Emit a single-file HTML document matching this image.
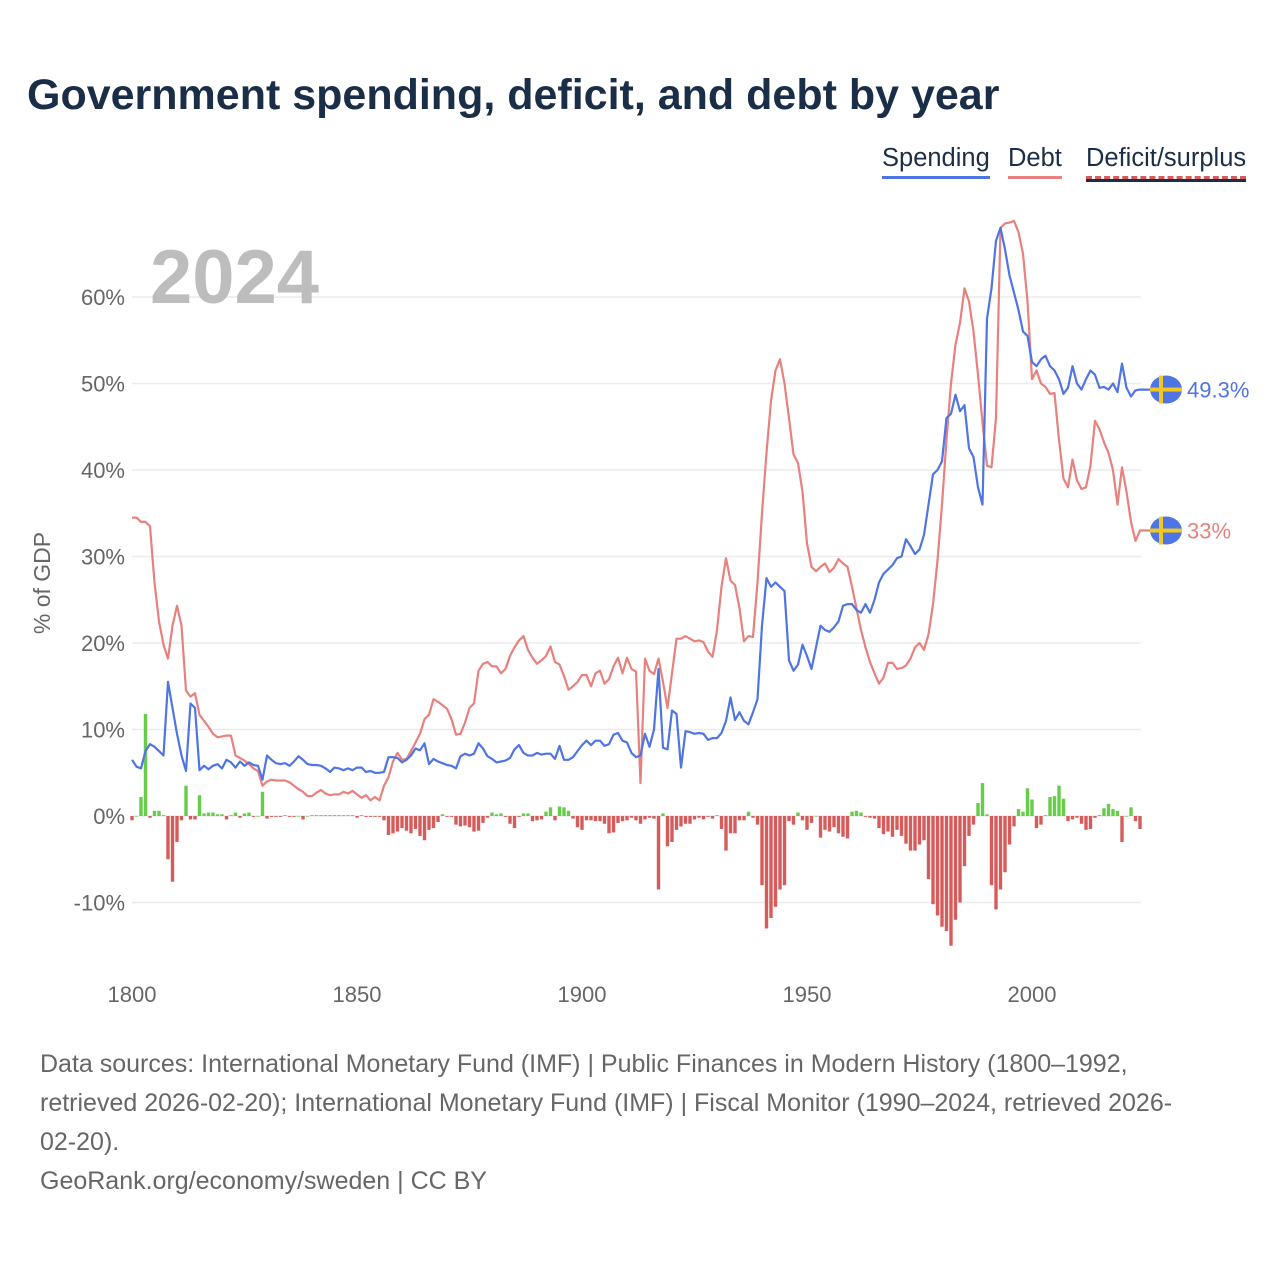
<!DOCTYPE html>
<html><head><meta charset="utf-8">
<style>
body{margin:0;background:#fff;font-family:"Liberation Sans",sans-serif;}
#wrap{position:relative;width:1280px;height:1280px;overflow:hidden;}
h1{position:absolute;left:27px;top:71px;margin:0;font-size:43px;font-weight:bold;color:#1b2e48;letter-spacing:0px;white-space:nowrap;}
.leg{position:absolute;top:144px;font-size:25.5px;color:#1b2e48;padding-bottom:3px;white-space:nowrap;}
#foot{position:absolute;left:40px;top:1045px;width:1230px;font-size:25px;line-height:39px;color:#666;white-space:nowrap;}
</style></head><body>
<div id="wrap">
<h1>Government spending, deficit, and debt by year</h1>
<div class="leg" style="left:882px;border-bottom:3px solid #4f74e3">Spending</div>
<div class="leg" style="left:1008px;border-bottom:3px solid #e8807e">Debt</div>
<div class="leg" style="left:1086px;border-bottom:3px dashed #d65c5c;box-shadow:0 3px 0 #1b2e48">Deficit/surplus</div>
<svg id="chart" width="1280" height="1280" style="position:absolute;left:0;top:0"></svg>
<div id="foot">Data sources: International Monetary Fund (IMF) | Public Finances in Modern History (1800–1992,<br>retrieved 2026-02-20); International Monetary Fund (IMF) | Fiscal Monitor (1990–2024, retrieved 2026-<br>02-20).<br>GeoRank.org/economy/sweden | CC BY</div>
</div>
<script>
const startYear = 1800;
const spending = [6.5,5.7,5.5,7.5,8.3,8,7.5,7,15.5,12.5,9.5,7,5.2,13,12.5,5.3,5.8,5.4,5.8,6,5.5,6.5,6.2,5.6,6.3,5.8,6.2,5.9,5.8,4.2,7,6.5,6.1,6,6.1,5.8,6.3,6.9,6.5,6,5.9,5.9,5.8,5.5,5.1,5.6,5.5,5.3,5.5,5.3,5.6,5.6,5.1,5.2,5,5,5.1,6.8,6.8,6.7,6.2,6.5,7,7.8,7.6,8.4,6,6.6,6.3,6.1,5.9,5.8,5.5,6.9,7.2,7,7.2,8.4,7.8,6.9,6.6,6.2,6.3,6.4,6.7,7.7,8.2,7.3,7,7,7.3,7.1,7.2,7.2,6.6,8.1,6.5,6.5,6.8,7.5,8.2,8.7,8.2,8.7,8.7,8.1,8.3,9.4,9.6,8.7,8.5,7.3,6.8,7,9.5,8,10,17,7.9,7.7,12.2,11.8,5.6,9.8,9.7,9.5,9.6,9.5,8.8,9,9,9.6,11,13.7,11.1,12,11,10.6,12,13.5,22,27.5,26.5,27,26.5,26,18,16.8,17.5,19.8,18.5,17,19.5,22,21.5,21.3,21.8,22.5,24.3,24.5,24.5,23.8,23.5,24.5,23.5,25,27,28,28.5,29,29.8,30,32,31.2,30.3,30.8,32.5,36,39.5,40,41,46,46.5,48.7,46.8,47.5,42.5,41.5,38,36,57.5,61,66.5,68,65.5,62.5,60.5,58.5,56,55.5,52.5,52,52.8,53.2,52,51.5,50.5,48.8,49.5,52,50,49.3,50.5,51.5,51,49.5,49.6,49.3,50,49,52.3,49.5,48.5,49.2,49.3];
const debt = [34.5,34.5,34,34,33.5,27,22.5,19.8,18.2,22,24.3,22,14.5,13.8,14.2,11.7,11,10.3,9.5,9.1,9.2,9.3,9.3,7,6.7,6.4,6,5.5,5.2,3.5,4,4.2,4.1,4.1,4.1,3.9,3.5,3.1,2.8,2.3,2.3,2.7,3,2.6,2.4,2.5,2.5,2.8,2.6,2.9,2.5,2.1,2.4,1.8,2.2,1.8,3.5,4.5,6.3,7.3,6.5,6.6,7.5,8.5,9.5,11.2,11.7,13.5,13.2,12.8,12.4,11.2,9.4,9.5,10.8,12.5,13,16.8,17.6,17.8,17.3,17.3,16.5,17,18.5,19.5,20.3,20.8,19.2,18.3,17.6,18,18.5,19.6,17.8,17.5,16.2,14.6,15,15.5,16.3,16.3,15,16.5,16.8,15.3,15.8,17.3,18.3,16.5,18.3,17,16.7,3.8,18.2,16.8,16.4,18.2,15.5,12.5,16.5,20.5,20.5,20.8,20.5,20.2,20.3,20.1,19,18.4,21.5,26.5,29.8,27.2,26.7,24,20.2,20.8,20.7,27,35,42,48,51.5,52.8,50,46,41.8,40.8,37.5,31.5,28.8,28.3,28.8,29.2,28.2,28.7,29.7,29.2,28.8,26.5,24,21.5,19.5,17.8,16.5,15.3,16,17.7,17.7,17,17.1,17.4,18.2,19.5,20,19.2,21,24.5,29.5,36,43.5,50,54.5,57,61,59.5,56,51,45.5,40.5,40.3,46,68,68.5,68.6,68.8,67.5,65,59.5,50.5,51.5,50,49.6,48.8,48.9,43.5,39,38,41.2,38.8,37.8,38,40.5,45.7,44.7,43.2,42,40,36,40.3,37.5,34,31.8,33];
const balance = [-0.5,0,2.2,11.8,-0.2,0.6,0.6,0.1,-5,-7.6,-3,-0.5,3.5,-0.4,-0.4,2.4,0.3,0.4,0.4,0.2,0.2,-0.4,0.1,0.4,-0.2,0.3,0.4,-0.1,0,2.8,-0.3,-0.1,-0.1,-0.1,0.1,-0.1,-0.1,0,-0.4,0,0.1,0.1,0.1,0.1,0.1,0.1,0.1,0.1,0.1,0.1,-0.2,0.1,-0.1,-0.1,-0.1,-0.1,-0.5,-2.2,-2,-1.8,-1.4,-1.7,-2,-1.5,-2.3,-2.8,-1.6,-1.4,-0.7,0.2,-0.1,-0.1,-1,-1.2,-1.1,-1.3,-1.8,-1.7,-0.8,-0.2,0.4,0.2,0.3,-0.1,-0.9,-1.4,-0.1,0.3,0.3,-0.6,-0.5,-0.4,0.5,1,-0.5,1.1,1,0.6,-0.3,-1.3,-1.6,-0.5,-0.5,-0.6,-0.6,-0.9,-2,-1.9,-0.8,-0.6,-0.5,-0.2,-0.5,-0.9,-0.4,-0.2,-0.3,-8.5,0.3,-3.5,-3,-1.6,-1.2,-0.9,-0.9,-0.4,-0.2,-0.4,-0.1,-0.3,0.1,-1.5,-4,-2,-2,-0.5,-0.5,0.5,-0.2,-1,-8,-13,-11.8,-10.5,-8.5,-8,-0.6,-1,0.4,-0.5,-1.6,-0.8,0,-2.5,-1.6,-1.8,-1.3,-2,-2.4,-2.6,0.5,0.6,0.4,-0.1,-0.2,-0.3,-1.4,-2.1,-1.8,-2.4,-1.6,-2.3,-3.2,-4,-4,-3.3,-2.8,-7.3,-10.2,-11.5,-12.8,-13.3,-15,-12,-10,-5.8,-2.3,-1,1.5,3.8,0.2,-8,-10.8,-8.5,-6.5,-3.3,-1.2,0.8,0.5,3.2,1.9,-1.4,-1,0.1,2.2,2.3,3.5,2,-0.6,-0.4,-0.2,-0.9,-1.6,-1.5,-0.2,0.1,0.9,1.4,0.8,0.6,-3,0,1,-0.6,-1.5];
const yTicks = [-10,0,10,20,30,40,50,60];
const xTicks = [1800,1850,1900,1950,2000];

const NS="http://www.w3.org/2000/svg";
const svg=document.getElementById('chart');
const X=y=>132+(y-1800)*4.5;
const Y=v=>816-v*8.65;
function mk(tag,attrs,parent){const e=document.createElementNS(NS,tag);for(const k in attrs)e.setAttribute(k,attrs[k]);(parent||svg).appendChild(e);return e;}

yTicks.forEach(t=>{
  const g=mk('line',{x1:132,x2:1141,y1:Y(t),y2:Y(t),stroke:'#ececec','stroke-width':1.5});
  
  
  const tx=mk('text',{x:125,y:Y(t)+8,'text-anchor':'end','font-size':22,fill:'#666','font-family':'Liberation Sans, sans-serif'});
  tx.textContent=t+'%';
  
  
});
xTicks.forEach(t=>{
  const tx=mk('text',{x:X(t),y:1002,'text-anchor':'middle','font-size':22,fill:'#666','font-family':'Liberation Sans, sans-serif'});
  tx.textContent=t;
  
  
});
const yt=mk('text',{transform:'translate(50,583) rotate(-90)','text-anchor':'middle','font-size':23,fill:'#666','font-family':'Liberation Sans, sans-serif'});
yt.textContent='% of GDP';



const yr=mk('text',{x:150,y:303,'font-size':76,'font-weight':'bold',fill:'#bdbdbd','font-family':'Liberation Sans, sans-serif'});
yr.textContent='2024';



balance.forEach((v,i)=>{
  const x=X(startYear+i);
  const b=mk('rect',{x:x-1.7,width:3.4,y:Math.min(Y(0),Y(v)),height:Math.max(Math.abs(Y(v)-Y(0)),0.6),fill:v>=0?'#66cc4a':'#d65c5c'});
  
  
});

function line(arr,color,name){
  let d=arr.map((v,i)=>(i?'L':'M')+X(startYear+i).toFixed(1)+' '+Y(v).toFixed(1)).join(' ');
  d+=' L1150 '+Y(arr[arr.length-1]).toFixed(1);
  const p=mk('path',{d:d,fill:'none',stroke:color,'stroke-width':2.2,'stroke-linejoin':'round'});
  
  
  const last=arr[arr.length-1];const cy=Y(last);
  const g=mk('g',{});
  
  
  mk('ellipse',{cx:1166,cy:cy,rx:16,ry:14,fill:'#4f74e3'},g);
  mk('rect',{x:1159,y:cy-14,width:4,height:28,fill:'#f2c81e'},g);
  mk('rect',{x:1150,y:cy-2,width:32,height:4,fill:'#f2c81e'},g);
  const t=mk('text',{x:1187,y:cy+8,'font-size':22,fill:color,'font-family':'Liberation Sans, sans-serif'});
  t.textContent=(Math.round(last*10)/10)+'%';
  
  
}
line(debt,'#e8807e','debt-line');
line(spending,'#4f74e3','spending-line');
</script>
</body></html>
